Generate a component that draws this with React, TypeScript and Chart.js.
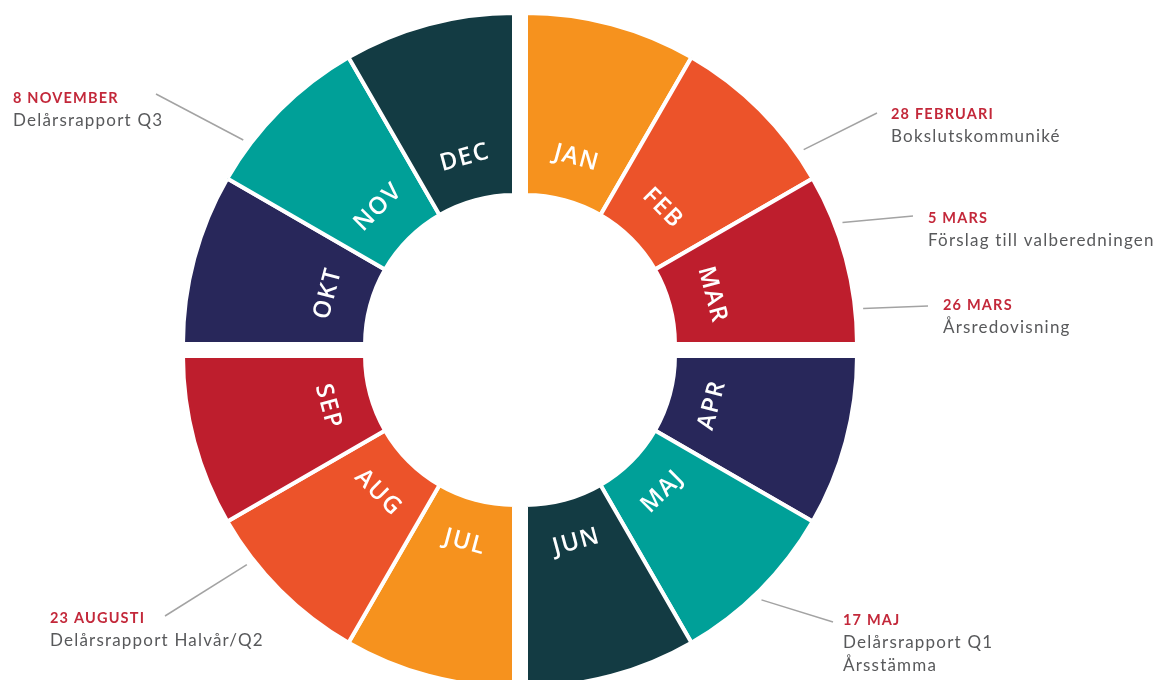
import React, { useEffect, useRef } from 'react';
import { Chart, registerables } from 'chart.js';

Chart.register(...registerables);

// ---- data ----
const months = ['JAN', 'FEB', 'MAR', 'APR', 'MAJ', 'JUN', 'JUL', 'AUG', 'SEP', 'OKT', 'NOV', 'DEC'];
const monthValues = [1, 1, 1, 1, 1, 1, 1, 1, 1, 1, 1, 1];
const monthColors = [
  '#F6921E', '#EC532A', '#BE1E2D', '#28275A', '#00A098', '#133B43',
  '#F6921E', '#EC532A', '#BE1E2D', '#28275A', '#00A098', '#133B43',
];

const eventTitles = ['8 NOVEMBER', '28 FEBRUARI', '5 MARS', '26 MARS', '23 AUGUSTI', '17 MAJ'];
const eventTexts = [
  ['Delårsrapport Q3'],
  ['Bokslutskommuniké'],
  ['Förslag till valberedningen'],
  ['Årsredovisning'],
  ['Delårsrapport Halvår/Q2'],
  ['Delårsrapport Q1', 'Årsstämma'],
];
const eventMonthIndex = [10, 1, 2, 2, 7, 4];
const eventAnchorDeg = [307, 55, 69, 84, 232, 136];

// ---- layout (annotation placement) ----
const calloutLayout = [
  { lineEnd: [156, 94], textX: 13, baseline: 103 },
  { lineEnd: [877, 113], textX: 891, baseline: 119 },
  { lineEnd: [913, 216], textX: 928, baseline: 223 },
  { lineEnd: [928, 306], textX: 943, baseline: 310 },
  { lineEnd: [165, 616], textX: 50, baseline: 623 },
  { lineEnd: [833, 622], textX: 843, baseline: 625 },
];
const QUAD_SHIFT = 6;

const quadrantShift = {
  id: 'quadrantShift',
  afterDatasetsUpdate(chart: any) {
    const meta = chart.getDatasetMeta(0);
    meta.data.forEach((arc: any, i: number) => {
      const q = Math.floor(i / 3);
      arc.x += q < 2 ? QUAD_SHIFT : -QUAD_SHIFT;
      arc.y += q === 0 || q === 3 ? -QUAD_SHIFT : QUAD_SHIFT;
    });
  },
};

const monthLabels = {
  id: 'monthLabels',
  afterDatasetsDraw(chart: any) {
    const ctx = chart.ctx;
    const meta = chart.getDatasetMeta(0);
    ctx.save();
    ctx.fillStyle = '#FFFFFF';
    ctx.font = '600 24px "Open Sans"';
    ctx.textAlign = 'center';
    ctx.textBaseline = 'middle';
    (ctx as any).letterSpacing = '1.5px';
    meta.data.forEach((arc: any, i: number) => {
      const mid = (arc.startAngle + arc.endAngle) / 2;
      const r = arc.innerRadius + (arc.outerRadius - arc.innerRadius) * 0.24;
      const x = arc.x + r * Math.cos(mid);
      const y = arc.y + r * Math.sin(mid);
      let rot = mid + Math.PI / 2;
      while (rot > Math.PI / 2) rot -= Math.PI;
      while (rot <= -Math.PI / 2) rot += Math.PI;
      ctx.save();
      ctx.translate(x, y);
      ctx.rotate(rot);
      ctx.fillText(months[i], 0.75, 0);
      ctx.restore();
    });
    ctx.restore();
  },
};

const callouts = {
  id: 'callouts',
  afterDraw(chart: any) {
    const ctx = chart.ctx;
    const meta = chart.getDatasetMeta(0);
    ctx.save();
    eventTitles.forEach((title, k) => {
      const arc: any = meta.data[eventMonthIndex[k]];
      const a = (eventAnchorDeg[k] - 90) * Math.PI / 180;
      const r = arc.outerRadius + 8;
      const sx = arc.x + r * Math.cos(a);
      const sy = arc.y + r * Math.sin(a);
      const L = calloutLayout[k];
      ctx.strokeStyle = '#A3A3A3';
      ctx.lineWidth = 1.5;
      ctx.beginPath();
      ctx.moveTo(sx, sy);
      ctx.lineTo(L.lineEnd[0], L.lineEnd[1]);
      ctx.stroke();
      ctx.textAlign = 'left';
      ctx.textBaseline = 'alphabetic';
      ctx.fillStyle = '#C3283A';
      ctx.font = '700 14.5px Lato';
      (ctx as any).letterSpacing = '1.2px';
      ctx.fillText(title, L.textX, L.baseline);
      ctx.fillStyle = '#58595B';
      ctx.font = '400 17px Lato';
      (ctx as any).letterSpacing = '1.2px';
      eventTexts[k].forEach((t, j) => {
        ctx.fillText(t, L.textX, L.baseline + 23 + j * 22.5);
      });
    });
    ctx.restore();
  },
};

export default function App() {
  const ref = useRef<HTMLCanvasElement | null>(null);
  useEffect(() => {
    if (!ref.current) return;
    const chart = new Chart(ref.current, {
      type: 'doughnut',
      data: {
        labels: months,
        datasets: [
          {
            data: monthValues,
            backgroundColor: monthColors,
            borderColor: '#FFFFFF',
            borderWidth: 4,
            hoverOffset: 0,
          },
        ],
      },
      options: {
        responsive: false,
        animation: false,
        radius: 331,
        cutout: '45%',
        layout: { padding: { left: 180, right: 297, top: 20, bottom: 0 } },
        plugins: { legend: { display: false }, tooltip: { enabled: false } },
        events: [],
      } as any,
      plugins: [quadrantShift, monthLabels, callouts],
    });
    return () => chart.destroy();
  }, []);
  return (
    <div style={{ position: 'absolute', left: 0, top: 0, width: 1157, height: 680, background: '#fff' }}>
      <canvas ref={ref} width={1157} height={680} style={{ display: 'block' }} />
    </div>
  );
}
